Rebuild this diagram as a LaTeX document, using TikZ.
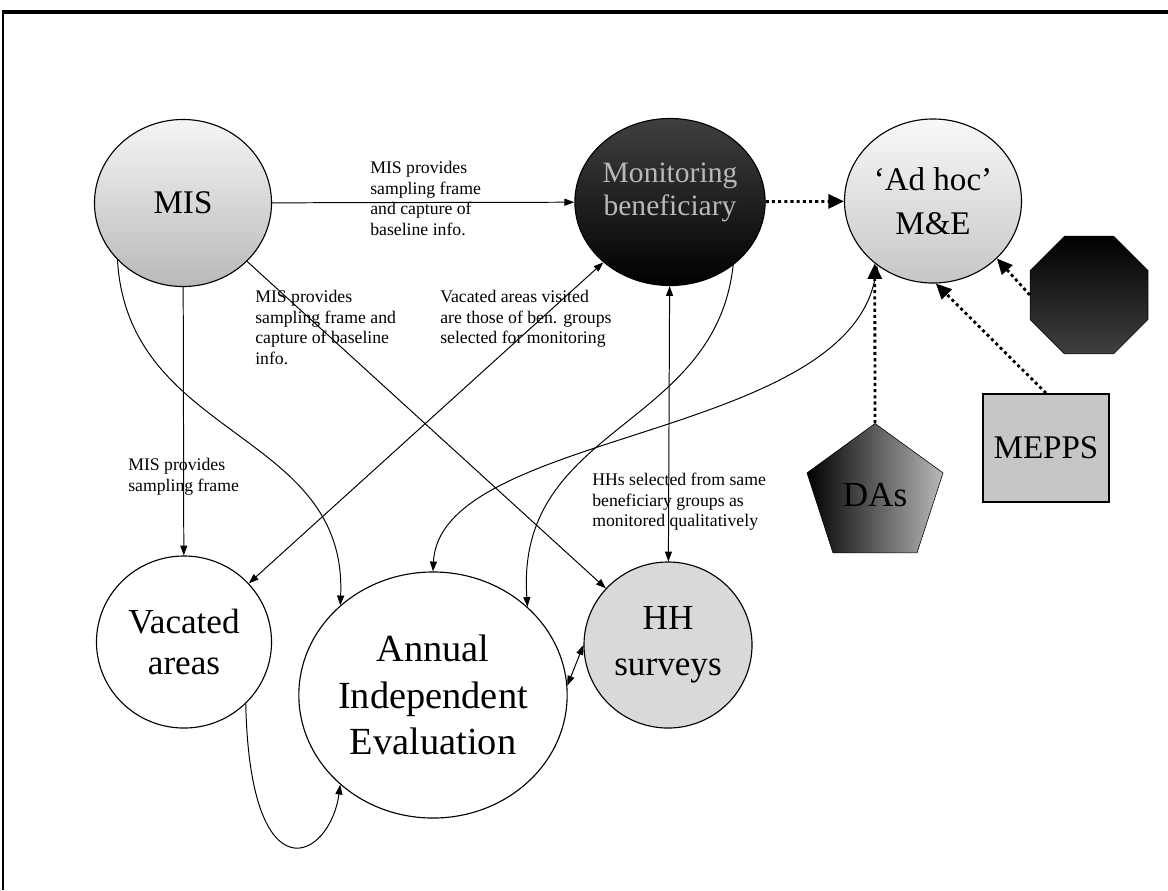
\documentclass[tikz,border=0pt]{standalone}
\usepackage{fontspec}
\setmainfont{Liberation Serif}
\usepackage{tikz}
\usetikzlibrary{shapes.geometric}
\usetikzlibrary{arrows.meta}

\tikzset{
  blob/.style={draw, ellipse, line width=0.8pt, inner sep=0pt, align=center},
  bigtext/.style={font=\fontsize{23.5}{31}\selectfont},
  note/.style={font=\fontsize{12.6}{14.6}\selectfont, align=left, anchor=north west, inner sep=0pt},
  link/.style={line width=0.7pt, -{Triangle[length=7pt,width=5pt]}},
  twolink/.style={line width=0.7pt, {Triangle[length=7pt,width=5pt]}-{Triangle[length=7pt,width=5pt]}},
  dotlink/.style={line width=2pt, dash pattern=on 2.2pt off 2.2pt, -{Triangle[length=11pt,width=10pt]}}
}

\begin{document}
\begin{tikzpicture}[x=0.025cm, y=-0.025cm]
\useasboundingbox (0,0) rectangle (1168,890);
\draw[line width=2.2pt] (2,12) -- (1168,12);
\draw[line width=1.2pt] (3,12) -- (3,890);

\draw (183, 203) node[blob, bigtext, minimum width=4.425cm, minimum height=4.175cm,
       top color=gray!8, bottom color=gray!55] (mis) {MIS};
\draw (670, 202) node[blob, font=\fontsize{21}{23.5}\selectfont, text=gray!55,
       minimum width=4.4cm, minimum height=4.175cm,
       top color=black!75, bottom color=black] (mon) {Monitoring\\beneficiary\rule[-0.65cm]{0pt}{0.65cm}};
\draw (933, 201) node[blob, bigtext, minimum width=4.425cm, minimum height=4.1cm,
       top color=gray!5, bottom color=gray!45] (adhoc) {`Ad hoc'\\M\&E};
\draw (1089, 295) node[draw, regular polygon, regular polygon sides=8, minimum size=3.19cm,
       inner sep=0pt, top color=black, bottom color=gray!50!black] (oct) {};
\draw (1046, 448) node[draw, rectangle, line width=1.2pt, minimum width=3.15cm, minimum height=2.7cm,
       inner sep=0pt, fill=gray!45, bigtext] (meps) {MEPPS};
\draw (875, 495) node[draw, regular polygon, regular polygon sides=5, minimum size=3.575cm,
       inner sep=0pt, left color=black, right color=gray!55,
       font=\fontsize{25}{29}\selectfont] (das) {DAs};
\draw (184, 642) node[blob, font=\fontsize{25}{29}\selectfont, minimum width=4.375cm,
       minimum height=4.3cm] (vac) {Vacated\\areas};
\draw (433, 695) node[blob, font=\fontsize{27.3}{33}\selectfont, minimum width=6.075cm,
       minimum height=6.15cm] (ann) {Annual\\Independent\\Evaluation};
\draw (668, 645) node[blob, font=\fontsize{25}{33}\selectfont, minimum width=4.2cm,
       minimum height=4.15cm, fill=gray!30] (hh) {HH\\surveys};

\draw[link] (mis) -- (mon);
\draw[dotlink] (mon) -- (adhoc);
\draw[link] (mis) -- (vac);
\draw[link] (mis) -- (hh);
\draw[twolink] (mon) -- (vac);
\draw[twolink] (mon) -- (hh);
\draw[twolink] (ann.4) -- (hh.180);
\draw[link] (mis.221) .. controls (128, 440) and (348, 430) .. (ann.136);
\draw[link] (mon.-45) .. controls (715, 430) and (515, 425) .. (ann.43);
\draw[twolink] (adhoc.229) .. controls (850, 440) and (440, 430) .. (ann.90);
\draw[link] (vac.-45) .. controls (250, 900) and (330, 860) .. (ann.-136);
\draw[dotlink] (oct.west) -- (adhoc.-42);
\draw[dotlink] (meps.north) -- (adhoc.-88);
\draw[dotlink] (das.corner 1) -- (adhoc.-133);

\draw (370, 161) node[note] (n1) {MIS provides\\sampling frame\\and capture of\\baseline info.};
\draw (255, 290) node[note] (n2) {MIS provides\\sampling frame and\\capture of baseline\\info.};
\draw (440, 290) node[note] (n3) {Vacated areas visited\\are those of ben. groups\\selected for monitoring};
\draw (128, 458) node[note] (n4) {MIS provides\\sampling frame};
\draw (592, 473) node[note] (n5) {HHs selected from same\\beneficiary groups as\\monitored qualitatively};
\end{tikzpicture}
\end{document}
